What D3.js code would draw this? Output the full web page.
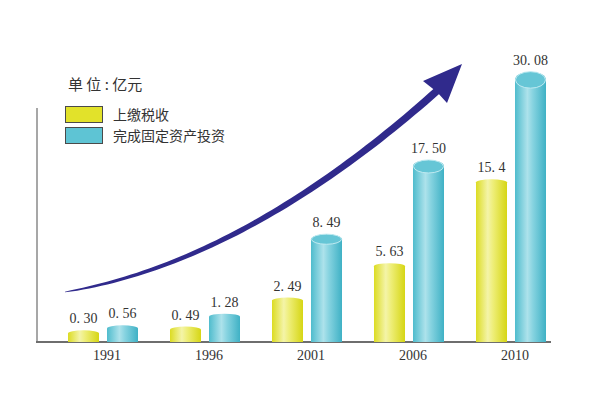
<!DOCTYPE html>
<html>
<head>
<meta charset="utf-8">
<script src="https://cdn.jsdelivr.net/npm/d3@7"></script>
<style>
  body { margin: 0; background: #fff; }
  svg { display: block; }
</style>
</head>
<body>
<svg width="601" height="394"></svg>
<script>
// data
var years = ["1991", "1996", "2001", "2006", "2010"];
var tax = [0.30, 0.49, 2.49, 5.63, 15.4];            // 上缴税收
var invest = [0.56, 1.28, 8.49, 17.50, 30.08];       // 完成固定资产投资
var taxText = ["0. 30", "0. 49", "2. 49", "5. 63", "15. 4"];
var investText = ["0. 56", "1. 28", "8. 49", "17. 50", "30. 08"];
var seriesNames = ["上缴税收", "完成固定资产投资"];

var svg = d3.select("svg");
var base = 342;

var x = d3.scaleBand().domain(years).range([52, 562]);
// the original is not drawn to a linear scale, a power scale follows it well
var y = d3.scalePow().exponent(0.74).domain([0, 31]).range([base, 74]);

var barW = 31, gap = 8;

var defs = svg.append("defs");
function grad(id, stops) {
  var g = defs.append("linearGradient").attr("id", id)
      .attr("x1", 0).attr("x2", 1).attr("y1", 0).attr("y2", 0);
  stops.forEach(function(s) {
    g.append("stop").attr("offset", s[0]).attr("stop-color", s[1]);
  });
}
grad("gYellow", [[0, "#dcdc22"], [0.38, "#f4f4a8"], [0.55, "#eeee78"], [1, "#d6d614"]]);
grad("gCyan", [[0, "#4fbccd"], [0.4, "#ade2eb"], [0.58, "#86d3e0"], [1, "#3fb1c5"]]);

// axes lines
svg.append("line")
    .attr("x1", 37).attr("x2", 37).attr("y1", 108).attr("y2", base)
    .attr("stroke", "#8a8a8a").attr("stroke-width", 1.5);
svg.append("line")
    .attr("x1", 36).attr("x2", 551).attr("y1", base).attr("y2", base)
    .attr("stroke", "#6e6e6e").attr("stroke-width", 2);

// arrow (decoration)
(function() {
  var p0 = [65, 292], c = [245, 262], p2 = [438, 90];
  var n = 60, left = [], right = [];
  for (var i = 0; i <= n; i++) {
    var t = i / n, u = 1 - t;
    var px = u*u*p0[0] + 2*u*t*c[0] + t*t*p2[0];
    var py = u*u*p0[1] + 2*u*t*c[1] + t*t*p2[1];
    var dx = 2*u*(c[0]-p0[0]) + 2*t*(p2[0]-c[0]);
    var dy = 2*u*(c[1]-p0[1]) + 2*t*(p2[1]-c[1]);
    var len = Math.sqrt(dx*dx + dy*dy);
    var w = 0.3 + 3.5 * Math.pow(t, 0.55);
    left.push([px - dy/len*w, py + dx/len*w]);
    right.push([px + dy/len*w, py - dx/len*w]);
  }
  var pts = left.concat(right.reverse());
  svg.append("path")
      .attr("d", d3.line()(pts) + "Z")
      .attr("fill", "#302a8c");
  svg.append("path")
      .attr("d", "M462,64L423,81L437,92L447,103Z")
      .attr("fill", "#302a8c");
})();

function cylPath(x0, w, top, ry) {
  return "M" + x0 + "," + base + "L" + x0 + "," + top +
    "A" + (w/2) + "," + ry + " 0 0,1 " + (x0 + w) + "," + top +
    "L" + (x0 + w) + "," + base + "Z";
}

function drawSeries(values, labels, offset, fill, topFill, topStroke) {
  var g = svg.append("g");
  values.forEach(function(v, i) {
    var x0 = x(years[i]) + x.bandwidth()/2 + offset;
    var top = y(v);
    var h = base - top;
    var face = topFill && h > 60;
    var ry = face ? 3 + h * 0.02 : 3;
    g.append("path")
        .attr("d", cylPath(x0, barW, top, ry))
        .attr("fill", fill);
    if (face) {
      g.append("ellipse")
          .attr("cx", x0 + barW/2).attr("cy", top)
          .attr("rx", barW/2 - 0.5).attr("ry", ry)
          .attr("fill", topFill)
          .attr("stroke", topStroke).attr("stroke-width", 1);
    }
    g.append("text")
        .attr("x", x0 + barW/2)
        .attr("y", top - ry - 7)
        .attr("text-anchor", "middle")
        .attr("font-family", "'Liberation Serif', 'DejaVu Serif', serif")
        .attr("font-size", 14)
        .attr("fill", "#333")
        .text(labels[i]);
  });
}

drawSeries(tax, taxText, -barW - gap/2, "url(#gYellow)", null, null);
drawSeries(invest, investText, gap/2, "url(#gCyan)", "#66c6d6", "#bfeaf1");

// year labels
var xAxis = svg.append("g")
    .attr("transform", "translate(4," + (base + 2) + ")")
    .call(d3.axisBottom(x).tickSize(0).tickPadding(6));
xAxis.select(".domain").remove();
xAxis.selectAll("text")
    .attr("font-family", "'Liberation Serif', 'DejaVu Serif', serif")
    .attr("font-size", 14)
    .attr("fill", "#333");

// title and legend
svg.append("text")
    .attr("x", 68).attr("y", 90)
    .attr("font-family", "'Noto Sans CJK SC', sans-serif")
    .attr("font-size", 15)
    .attr("fill", "#333")
    .text("单 位 : 亿元");

var legend = svg.append("g");
var legendFills = ["#e2e22a", "#5ec4d4"];
seriesNames.forEach(function(name, i) {
  legend.append("rect")
      .attr("x", 65.5).attr("y", 106.5 + i * 21)
      .attr("width", 37).attr("height", 16)
      .attr("fill", legendFills[i])
      .attr("stroke", "#4a4a4a").attr("stroke-width", 1);
  legend.append("text")
      .attr("x", 113).attr("y", 120 + i * 21)
      .attr("font-family", "'Noto Sans CJK SC', sans-serif")
      .attr("font-size", 14)
      .attr("fill", "#333")
      .text(name);
});
</script>
</body>
</html>
